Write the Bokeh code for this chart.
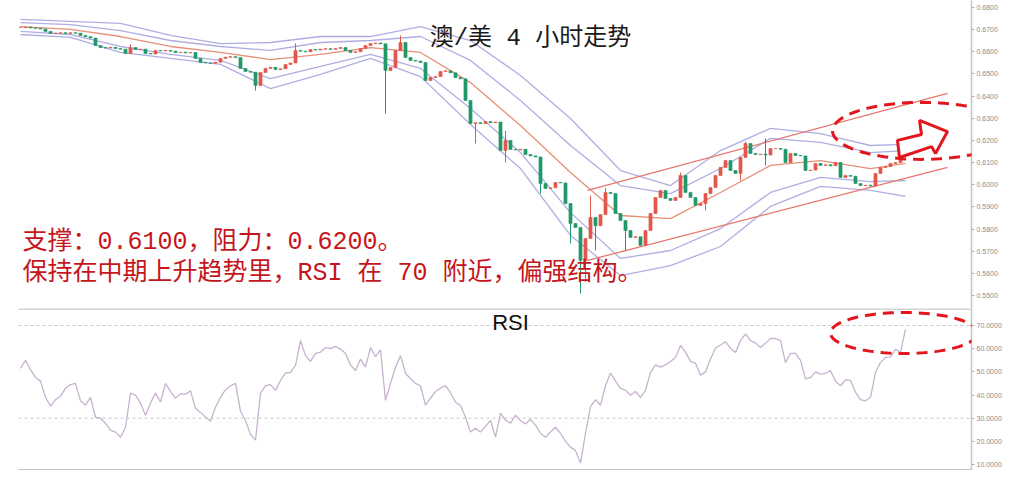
import numpy as np
from bokeh.plotting import figure
from bokeh.layouts import column
from bokeh.models import (Range1d, FixedTicker, NumeralTickFormatter, Span, Label,
                          PolyAnnotation, ColumnDataSource)
from bokeh.embed import file_html
from bokeh.resources import INLINE

# ---------------- data ----------------
close = [
    .6710, .6712, .6708, .6706, .6703, .6692, .6683, .6684, .6686, .6683,
    .6686, .6684, .6674, .6668, .6662, .6628, .6619, .6617, .6620, .6615,
    .6612, .6592, .6619, .6610, .6612, .6592, .6590, .6606, .6604, .6606,
    .6603, .6597, .6598, .6595, .6597, .6570, .6552, .6550, .6548, .6553,
    .6570, .6575, .6578, .6574, .6525, .6511, .6508, .6448, .6507, .6525,
    .6530, .6520, .6523, .6543, .6550, .6606, .6603, .6600, .6610, .6608,
    .6612, .6614, .6611, .6615, .6619, .6606, .6597, .6600, .6615, .6628,
    .6637, .6640, .6636, .6516, .6529, .6606, .6642, .6574, .6561, .6558,
    .6552, .6470, .6484, .6488, .6511, .6514, .6505, .6484, .6478, .6380,
    .6276, .6280, .6276, .6285, .6280, .6283, .6154, .6200, .6159, .6157,
    .6160, .6136, .6130, .6125, .6005, .5983, .5986, .6010, .6008, .5915,
    .5825, .5807, .5658, .5757, .5852, .5815, .5865, .5965, .5960, .5870,
    .5838, .5793, .5762, .5765, .5726, .5793, .5870, .5942, .5974, .5938,
    .5929, .5942, .6042, .5965, .5942, .5906, .5915, .5960, .5987, .6042,
    .6078, .6109, .6064, .6051, .6123, .6186, .6141, .6136, .6138, .6134,
    .6163, .6163, .6160, .6100, .6141, .6132, .6130, .6064, .6066, .6096,
    .6087, .6090, .6085, .6100, .6033, .6042, .6038, .6005, .5996, .5998,
    .5994, .6051, .6078, .6082, .6096, .6100, .6132, .6145,
]
wick_high = {22: .6633, 55: .6638, 76: .6674, 97: .6243, 114: .5951, 117: .5985,
             132: .6055, 145: .6195, 149: .6209, 177: .6190}
wick_low = {47: .6425, 73: .6321, 91: .6186, 97: .6100, 104: .5960, 110: .5735,
            112: .5509, 113: .5560, 115: .5703, 121: .5703, 137: .5884, 144: .6019,
            149: .6087}

rsi = [
    51.5, 55, 51, 47.6, 46, 39, 35.2, 38, 39.5, 42.9,
    44.5, 45, 37.5, 35.6, 39, 30.4, 30, 27.8, 24.8, 24,
    21.8, 26.1, 40.8, 39.9, 36.5, 31.3, 36.5, 40.8, 37, 45,
    41.6, 38.6, 40.6, 40.3, 41.8, 34.3, 32.5, 30.5, 28.7, 34.7,
    39, 42.3, 44, 45, 33, 29, 23, 20.5, 40.8, 44,
    44.5, 42, 46.3, 49.4, 49.8, 52.8, 63.5, 57, 54.5, 58,
    58.5, 60.5, 60, 61, 59.8, 58, 53, 50.6, 55.5, 52,
    60.5, 56.5, 59.5, 37.7, 45, 52, 57, 49.4, 47, 45,
    44, 35.6, 38.6, 41.5, 43, 44, 41, 36.9, 35.5, 30.4,
    24, 25.7, 24, 26.6, 29, 21.8, 32.2, 29.1, 27.8, 31.3,
    29, 27.5, 29.5, 27, 23.5, 21.8, 24, 26.1, 23.5, 20,
    17.5, 16, 10.6, 23.5, 35, 38, 35.6, 44, 49.5, 46,
    42.9, 42, 39.9, 41.5, 39, 42, 49.8, 53, 52, 53,
    54.5, 56.2, 61.4, 58.5, 54.5, 53.7, 48.5, 50, 55.5, 60.3,
    61.6, 63, 60.1, 58.4, 63.5, 66.4, 63.5, 62.5, 60.5, 62.3,
    64.4, 64.4, 63.5, 54, 58, 58, 55, 47, 47.5, 50,
    49, 49.4, 50.5, 46, 44, 46.5, 46.3, 41.2, 38, 37.5,
    39, 49.8, 54.1, 56.2, 56.5, 59.7, 58.4, 68.3,
]

band_idx = [0, 10, 20, 30, 40, 50, 60, 70, 80, 90, 100, 110, 120, 130, 140, 150, 160, 170, 177]
bb_upper_outer = [.6746, .6737, .6728, .6674, .6637, .6642, .6669, .6669, .6714, .6651,
                  .6493, .6299, .6064, .5996, .6154, .6254, .6231, .6177, .6182]
bb_upper_inner = [.6732, .6723, .6696, .6651, .6624, .6606, .6642, .6651, .6669, .6561,
                  .6380, .6177, .5996, .5960, .6073, .6209, .6191, .6145, .6154]
bb_mid = [.6714, .6701, .6669, .6624, .6597, .6565, .6588, .6619, .6597, .6461,
          .6267, .6055, .5861, .5847, .5965, .6087, .6109, .6073, .6096]
bb_lower_inner = [.6692, .6678, .6624, .6588, .6561, .6479, .6534, .6588, .6525, .6344,
                  .6145, .5874, .5667, .5703, .5802, .5965, .6033, .6014, .6019]
bb_lower_outer = [.6678, .6665, .6597, .6570, .6543, .6434, .6498, .6570, .6488, .6272,
                  .6073, .5771, .5590, .5635, .5721, .5902, .5992, .5974, .5947]

chan_idx = [113.4, 185.4]
chan_upper = [.5974, .6412]
chan_lower = [.5658, .6078]

price_ticks = [0.55, 0.56, 0.57, 0.58, 0.59, 0.60, 0.61, 0.62, 0.63, 0.64, 0.65, 0.66, 0.67, 0.68]
rsi_ticks = [10, 20, 30, 40, 50, 60, 70]
rsi_levels = [70, 30]

title_text = "澳/美 4 小时走势"
note_line1 = "支撑：0.6100，阻力：0.6200。"
note_line2 = "保持在中期上升趋势里，RSI 在 70 附近，偏强结构。"
rsi_title = "RSI"

# ---------------- derived candle table ----------------
n = len(close)
idx = list(range(n))
opens = [close[0]] + close[:-1]
highs = [max(o, c, wick_high.get(i, 0.0)) for i, (o, c) in enumerate(zip(opens, close))]
lows = [min(o, c, wick_low.get(i, 9.0)) for i, (o, c) in enumerate(zip(opens, close))]
UP, DOWN = "#e4574b", "#23996a"
colors = [UP if c >= o else DOWN for o, c in zip(opens, close)]
src = ColumnDataSource(dict(x=idx, open=opens, close=close, high=highs, low=lows,
                            top=[max(o, c) for o, c in zip(opens, close)],
                            bottom=[min(o, c) for o, c in zip(opens, close)],
                            color=colors))

AXIS_GREY = "#c4c4c4"
LABEL_GREY = "#8c8c8c"
LAVENDER = "#abaae0"
MID = "#e69077"
CHAN = "#e8766c"
ANNOT_RED = "#e3161d"
TEXT_RED = "#c4161c"
CJK_MONO = "'Liberation Mono', 'Noto Sans CJK SC'"

W = 1004
xr = Range1d(-0.4, 190.2)


def style_axis(fig, ticks):
    ax = fig.yaxis[0]
    ax.ticker = FixedTicker(ticks=ticks)
    ax.formatter = NumeralTickFormatter(format="0.0000")
    ax.major_label_text_font_size = "7px"
    ax.major_label_text_color = LABEL_GREY
    ax.major_label_text_font = "Liberation Sans"
    ax.axis_line_color = AXIS_GREY
    ax.axis_line_width = 1.5
    ax.major_tick_line_color = "#b0b0b0"
    ax.major_tick_in = 0
    ax.major_tick_out = 3
    ax.minor_tick_line_color = None
    ax.major_label_standoff = 2
    fig.grid.visible = False
    fig.outline_line_color = None
    fig.background_fill_color = "white"
    fig.border_fill_color = "white"


# ---------------- main price panel ----------------
p = figure(width=W, height=308, x_range=xr, y_range=Range1d(0.54411, 0.68316),
           output_backend="svg", toolbar_location=None, x_axis_location=None,
           y_axis_location="right", min_border_left=18, min_border_right=W - 971,
           min_border_top=0, min_border_bottom=0)
style_axis(p, price_ticks)

for series in [bb_upper_outer, bb_upper_inner, bb_lower_inner, bb_lower_outer]:
    p.line(band_idx, series, line_color=LAVENDER, line_width=1.3, line_alpha=0.95)
p.line(band_idx, bb_mid, line_color=MID, line_width=1.3)

p.line(chan_idx, chan_upper, line_color=CHAN, line_width=1.3)
p.line(chan_idx, chan_lower, line_color=CHAN, line_width=1.3)

p.segment(x0="x", y0="low", x1="x", y1="high", source=src, line_color="color", line_width=1)
p.vbar(x="x", top="top", bottom="bottom", width=0.62, source=src,
       fill_color="color", line_color="color", line_width=0.6)

# dashed ellipse round the breakout zone
t = np.linspace(0, 2 * np.pi, 120)
e1x = list(180.3 + 17.9 * np.cos(t))
e1y = list(0.6243 + 0.01287 * np.sin(t))
p.add_layout(PolyAnnotation(xs=e1x, ys=e1y, xs_units="data", ys_units="data",
                            fill_alpha=0, line_alpha=1, line_color=ANNOT_RED,
                            line_width=3, line_dash="11 7"))
# block arrow
arrow_x = [175.4, 180.2, 179.8, 185.4, 183.0, 182.2, 175.8]
arrow_y = [.6200, .6227, .6290, .6240, .6141, .6172, .6123]
p.add_layout(PolyAnnotation(xs=arrow_x, ys=arrow_y, xs_units="data", ys_units="data",
                            fill_color="white", fill_alpha=1, line_alpha=1,
                            line_color=ANNOT_RED, line_width=3))

p.add_layout(Label(x=102, y=0.6660, text=title_text, text_align="center",
                   text_baseline="middle", text_font=CJK_MONO, text_font_size="24px",
                   text_color="#1a1a1a"))
p.add_layout(Label(x=0.4, y=0.5739, text=note_line1, text_align="left",
                   text_baseline="middle", text_font=CJK_MONO, text_font_size="25px",
                   text_color=TEXT_RED))
p.add_layout(Label(x=0.4, y=0.5599, text=note_line2, text_align="left",
                   text_baseline="middle", text_font=CJK_MONO, text_font_size="25px",
                   text_color=TEXT_RED))

# ---------------- RSI panel ----------------
q = figure(width=W, height=162, x_range=xr, y_range=Range1d(7.42, 77.34),
           output_backend="svg", toolbar_location=None, x_axis_location=None,
           y_axis_location="right", min_border_left=18, min_border_right=W - 971,
           min_border_top=0, min_border_bottom=0)
style_axis(q, rsi_ticks)
# separator line at the top of the RSI panel (runs a little past the axis)
q.add_layout(PolyAnnotation(xs=[-0.4, 196.0], ys=[77.1, 77.1], xs_units="data",
                            ys_units="data", fill_alpha=0, line_alpha=1,
                            line_color=AXIS_GREY, line_width=1.5))
q.add_layout(Span(location=7.75, dimension="width", line_color=AXIS_GREY, line_width=1.5))
for lv in rsi_levels:
    q.add_layout(Span(location=lv, dimension="width", line_color="#c6c6c6",
                      line_width=1, line_dash="3 3"))
q.line(idx, rsi, line_color="#c7b2cf", line_width=1.3)

e2x = list(176.7 + 14.7 * np.cos(t))
e2y = list(66.76 + 8.85 * np.sin(t))
q.add_layout(PolyAnnotation(xs=e2x, ys=e2y, xs_units="data", ys_units="data",
                            fill_alpha=0, line_alpha=1, line_color=ANNOT_RED,
                            line_width=3, line_dash="11 7"))
q.add_layout(Label(x=98, y=76.7, text=rsi_title, text_align="center",
                   text_baseline="top", text_font="Liberation Sans",
                   text_font_size="22px", text_color="#111111"))

layout = column(p, q)
open("out.html", "w").write(file_html(layout, INLINE))
